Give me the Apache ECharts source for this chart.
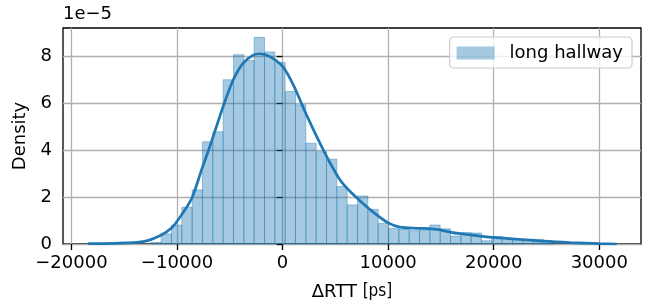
<!DOCTYPE html>
<html>
<head>
<meta charset="utf-8">
<script src="https://cdn.jsdelivr.net/npm/echarts@6/dist/echarts.min.js"></script>
<style>
  html, body { margin: 0; padding: 0; background: #fff; }
  #chart { width: 649px; height: 305px; }
</style>
</head>
<body>
<div id="chart"></div>
<script>
// histogram bin edges (ps) and densities (x 1e-5)
const binEdges = [
  -12483, -11504, -10525, -9546, -8567, -7588, -6609, -5630, -4651, -3672,
  -2693, -1714, -735, 244, 1223, 2202, 3181, 4160, 5139, 6118,
  7097, 8076, 9055, 10034, 11013, 11992, 12971, 13950, 14929, 15908,
  16887, 17866, 18845, 19824, 20803, 21782, 22761, 23740, 24719, 25698
];
const binHeights = [
  0.07, 0.43, 0.81, 1.57, 2.31, 4.36, 4.79, 7.01, 8.08, 7.83,
  8.82, 8.20, 7.75, 6.51, 5.94, 4.30, 3.94, 3.62, 2.45, 1.67,
  2.05, 1.48, 0.88, 0.67, 0.62, 0.57, 0.60, 0.81, 0.65, 0.34,
  0.49, 0.47, 0.14, 0.32, 0.24, 0.21, 0.16, 0.20, 0.05
];

// kde curve
const kdeX = [
  -18427, -15896, -13213, -11630, -10521, -9573, -8597, -7678, -6891,
  -5630, -4682, -3735, -2787, -2152, -1204, 0, 1005, 2275, 4009,
  5431, 6379, 7640, 8588, 10009, 11118, 12701, 13962, 14910,
  15858, 16806, 17754, 18701, 19962, 22493, 24701, 27232, 30076, 31659
];
const kdeY = [
  0.02, 0.03, 0.10, 0.35, 0.68, 1.24, 1.95, 3.16, 4.16,
  5.87, 7.00, 7.72, 8.06, 8.12, 8.00, 7.58, 6.80, 5.50, 3.88,
  2.74, 2.25, 1.72, 1.36, 0.90, 0.72, 0.67, 0.66, 0.60,
  0.51, 0.44, 0.39, 0.34, 0.28, 0.20, 0.12, 0.06, 0.015, 0.0
];

const xTicks = [-20000, -10000, 0, 10000, 20000, 30000];
const yTicks = [0, 2, 4, 6, 8];

const FONT = "DejaVu Sans";
const C0 = "#1f77b4";
const BAR_FILL = "rgba(31,119,180,0.4)";

const histData = binHeights.map((h, i) => [binEdges[i], binEdges[i + 1], h]);
const kdeData = kdeX.map((x, i) => [x, kdeY[i]]);

function renderBin(params, api) {
  const top = api.coord([api.value(0), api.value(2)]);
  const bottom = api.coord([api.value(1), 0]);
  return {
    type: "rect",
    shape: {
      x: top[0],
      y: top[1],
      width: bottom[0] - top[0],
      height: bottom[1] - top[1]
    },
    style: { fill: BAR_FILL, stroke: BAR_FILL, lineWidth: 1 }
  };
}

const chart = echarts.init(document.getElementById("chart"));
chart.setOption({
  animation: false,
  grid: {
    left: 63, right: 8, top: 28, bottom: 61,
    outerBoundsMode: "none",
    show: true,
    borderColor: "#000",
    borderWidth: 1.3,
    backgroundColor: "transparent"
  },
  xAxis: {
    type: "value",
    min: -20800,
    max: 33950,
    name: "{a|ΔRTT }{b|[ps]}",
    nameLocation: "middle",
    nameGap: 39,
    nameTextStyle: {
      rich: {
        a: { fontFamily: FONT, fontSize: 18, color: "#000" },
        b: { fontFamily: "DejaVu Sans Condensed", fontSize: 17, color: "#000" }
      }
    },
    axisLine: { show: false },
    axisTick: {
      show: true, inside: false, length: 6,
      customValues: xTicks,
      lineStyle: { color: "#000", width: 1.3 }
    },
    axisLabel: {
      customValues: xTicks,
      margin: 10,
      fontFamily: FONT, fontSize: 18, color: "#000",
      formatter: v => String(v).replace("-", "\u2212")
    },
    splitLine: { show: true, lineStyle: { color: "#b0b0b0", width: 1.3 } }
  },
  yAxis: {
    type: "value",
    min: 0,
    max: 9.22,
    name: "Density",
    nameLocation: "middle",
    nameGap: 34,
    nameTextStyle: { fontFamily: FONT, fontSize: 18, color: "#000" },
    axisLine: { show: false },
    axisTick: {
      show: true, inside: false, length: 6,
      customValues: yTicks,
      lineStyle: { color: "#000", width: 1.3 }
    },
    axisLabel: {
      customValues: yTicks,
      margin: 11,
      fontFamily: FONT, fontSize: 18, color: "#000"
    },
    splitLine: { show: true, lineStyle: { color: "#b0b0b0", width: 1.3 } }
  },
  legend: {
    data: ["long hallway"],
    right: 17,
    top: 37,
    icon: "rect",
    itemWidth: 38,
    itemHeight: 13,
    padding: [7, 9, 6, 7],
    backgroundColor: "rgba(255,255,255,0.8)",
    borderColor: "#cccccc",
    borderWidth: 1.2,
    borderRadius: 4,
    itemStyle: { color: BAR_FILL, borderWidth: 0 },
    textStyle: { fontFamily: FONT, fontSize: 18, color: "#000", padding: [0, 0, 0, 10] }
  },
  graphic: [
    {
      type: "text",
      left: 63,
      top: 5,
      style: { text: "1e\u22125", font: "18px 'DejaVu Sans'", fill: "#000" }
    }
  ],
  series: [
    {
      name: "long hallway",
      type: "custom",
      renderItem: renderBin,
      itemStyle: { color: BAR_FILL },
      encode: { x: [0, 1], y: 2 },
      data: histData,
      z: 2
    },
    {
      name: "kde",
      type: "line",
      data: kdeData,
      showSymbol: false,
      smooth: 0.3,
      lineStyle: { color: C0, width: 2.7 },
      itemStyle: { color: C0 },
      z: 3
    }
  ]
});
</script>
</body>
</html>
